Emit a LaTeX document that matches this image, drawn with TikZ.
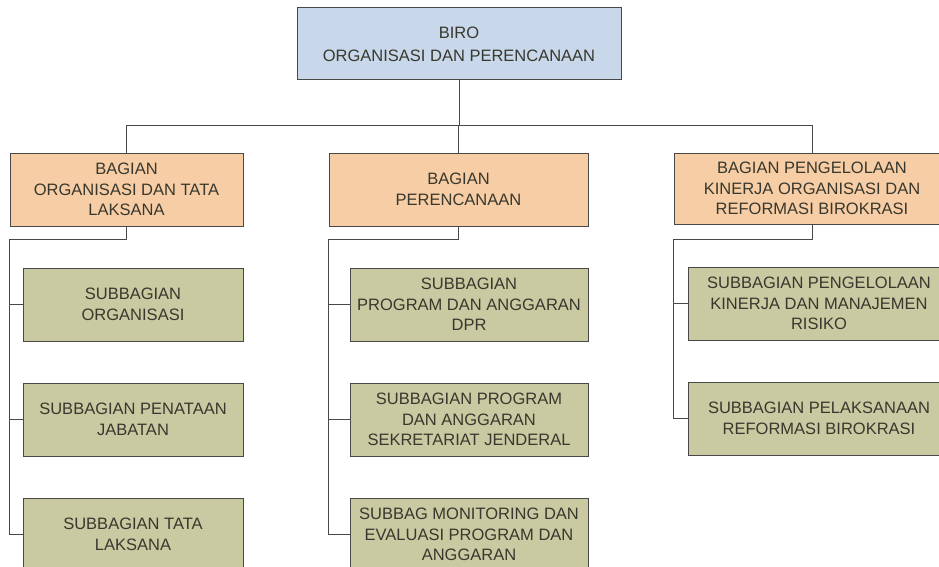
\documentclass[tikz,border=0pt]{standalone}
\usepackage{fontspec}
\setmainfont{Liberation Sans}
\usetikzlibrary{positioning, calc}
\definecolor{biroblue}{HTML}{C8D8EA}
\definecolor{bagpeach}{HTML}{F6CDA4}
\definecolor{subgreen}{HTML}{C9CAA2}
\definecolor{inkgrey}{HTML}{38382E}
\definecolor{linegrey}{HTML}{484848}

\begin{document}
\begin{tikzpicture}[x=1pt, y=-1pt, node distance=115pt, on grid,
  box/.style={draw=linegrey, line width=1pt, align=center, text=inkgrey,
    font=\fontsize{16.5}{20.5}\selectfont, inner sep=2pt, minimum height=73pt},
  biro/.style={box, fill=biroblue, font=\fontsize{16.5}{23}\selectfont},
  bagian/.style={box, fill=bagpeach},
  sub/.style={box, fill=subgreen},
  link/.style={draw=linegrey, line width=0.8pt}]
   \clip (0,0) rectangle (939,567);
   \fill[white] (0,0) rectangle (939,567);

   \node[biro, minimum width=324pt, minimum height=72pt] (biro) at (459,44) {BIRO\\ORGANISASI DAN PERENCANAAN};

   \node[bagian, minimum width=233pt] (bagOrg) at (126.5,189.5) {BAGIAN\\ORGANISASI DAN TATA\\LAKSANA};
   \node[bagian, minimum width=259pt] (bagRen) at (458.5,189.5) {BAGIAN\\PERENCANAAN};
   \node[bagian, minimum width=276pt, minimum height=71pt] (bagKin) at (812,188.5) {BAGIAN PENGELOLAAN\\KINERJA ORGANISASI DAN\\REFORMASI BIROKRASI};

   \node[sub, minimum width=220pt] (subOrg) at (133,304.5) {SUBBAGIAN\\ORGANISASI};
   \node[sub, minimum width=220pt] (subJab) [below=of subOrg] {SUBBAGIAN PENATAAN\\JABATAN};
   \node[sub, minimum width=220pt] (subTata) [below=of subJab] {SUBBAGIAN TATA\\LAKSANA};

   \node[sub, minimum width=238pt] (subDpr) at (469,304.5) {SUBBAGIAN\\PROGRAM DAN ANGGARAN\\DPR};
   \node[sub, minimum width=238pt] (subSet) [below=of subDpr] {SUBBAGIAN PROGRAM\\DAN ANGGARAN\\SEKRETARIAT JENDERAL};
   \node[sub, minimum width=238pt] (subMon) [below=of subSet] {SUBBAG MONITORING DAN\\EVALUASI PROGRAM DAN\\ANGGARAN};

   \node[sub, minimum width=262pt] (subKin) at (819,303.5) {SUBBAGIAN PENGELOLAAN\\KINERJA DAN MANAJEMEN\\RISIKO};
   \node[sub, minimum width=262pt] (subRb) [below=of subKin] {SUBBAGIAN PELAKSANAAN\\REFORMASI BIROKRASI};

   % biro to bagian
   \coordinate (bus) at (459,125);
   \draw[link] (biro.south) -- (bus);
   \draw[link] (bus) -| (bagOrg.north);
   \draw[link] (bus) -| (bagRen.north);
   \draw[link] (bus) -| (bagKin.north);

   % bagian to subbagian
   \coordinate (k) at (0,239);
   \foreach \b/\s in {bagOrg/subTata, bagRen/subMon, bagKin/subRb}
     \draw[link] (\b.south) -- (\b.south |- k) -| (\b.west |- \s.west) -- (\s.west);
   \foreach \b/\s in {bagOrg/subOrg, bagOrg/subJab, bagRen/subDpr, bagRen/subSet, bagKin/subKin}
     \draw[link] (\b.west |- \s.west) -- (\s.west);
\end{tikzpicture}
\end{document}
